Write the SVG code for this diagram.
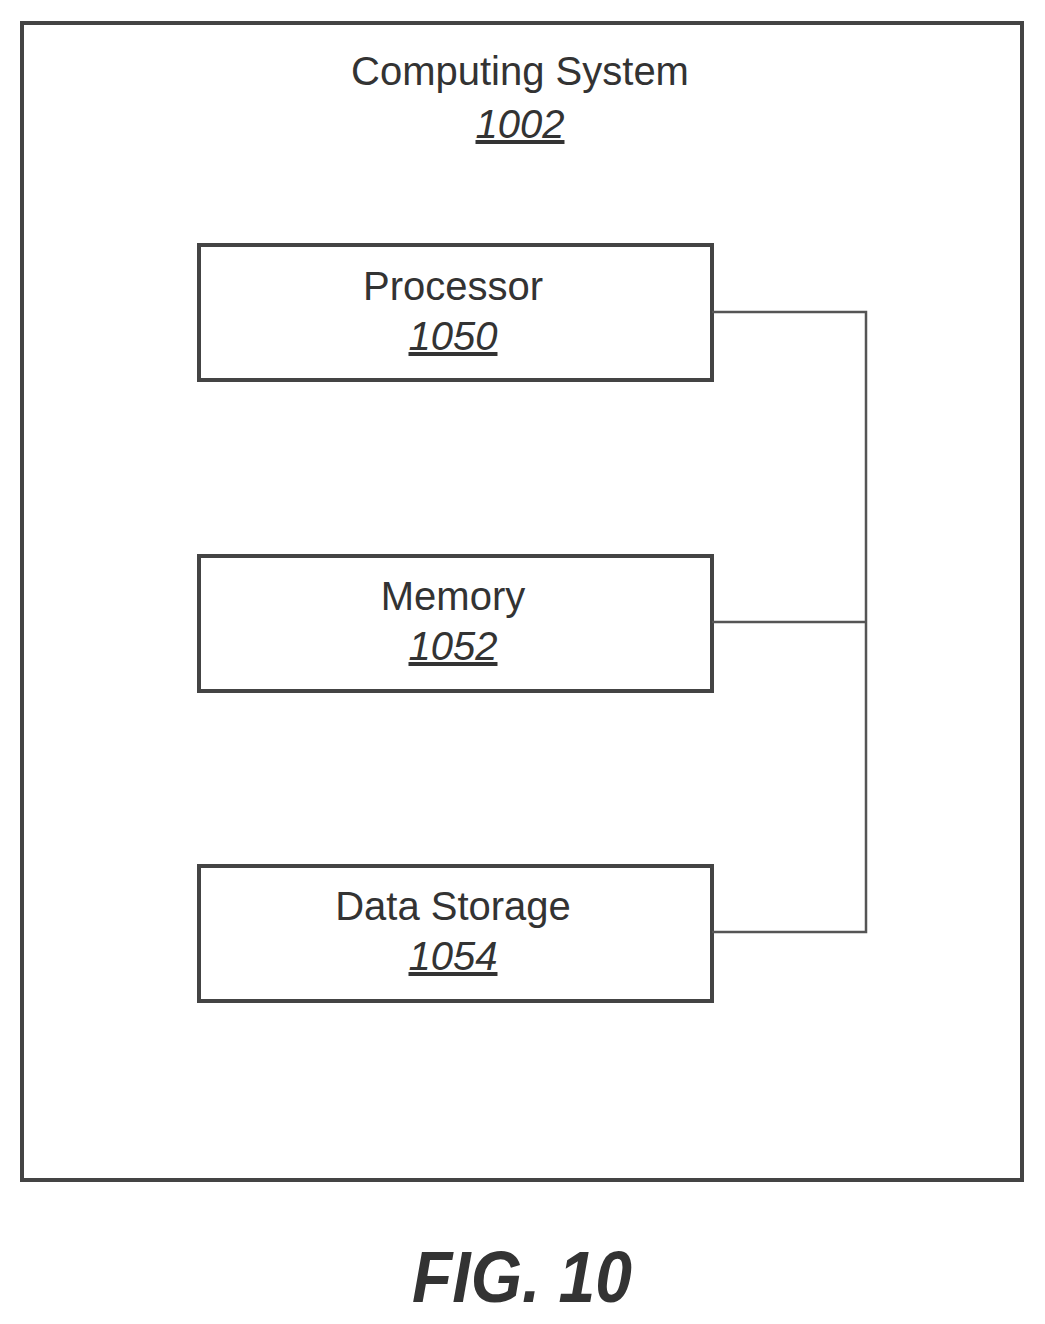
<svg xmlns="http://www.w3.org/2000/svg" width="1045" height="1324" viewBox="0 0 1045 1324">
<style>
.b{fill:none;stroke:#444;stroke-width:4}
.t{font-family:"Liberation Sans",Arial,sans-serif;font-size:40px;fill:#333;text-anchor:middle}
.n{font-style:italic;text-decoration:underline}
.c{fill:none;stroke:#555;stroke-width:2.5}
</style>
<rect width="1045" height="1324" fill="#fff"/>
<g id="system"><rect class="b" x="22" y="23" width="1000" height="1157"/>
<text class="t" x="520" y="85">Computing System</text><text class="t n" x="520" y="138">1002</text></g>
<g id="processor"><rect class="b" x="199" y="245" width="513" height="135"/>
<text class="t" x="453" y="300">Processor</text><text class="t n" x="453" y="350">1050</text></g>
<g id="memory"><rect class="b" x="199" y="556" width="513" height="135"/>
<text class="t" x="453" y="610">Memory</text><text class="t n" x="453" y="660">1052</text></g>
<g id="storage"><rect class="b" x="199" y="866" width="513" height="135"/>
<text class="t" x="453" y="920">Data Storage</text><text class="t n" x="453" y="970">1054</text></g>
<g id="connectors"><path class="c" d="M712 312H866V932H712M712 622H866"/></g>
<text x="412" y="1302" textLength="220" lengthAdjust="spacingAndGlyphs" style="font-family:'Liberation Sans',Arial,sans-serif;font-size:72px;font-style:italic;font-weight:bold;fill:#333">FIG. 10</text>
</svg>
